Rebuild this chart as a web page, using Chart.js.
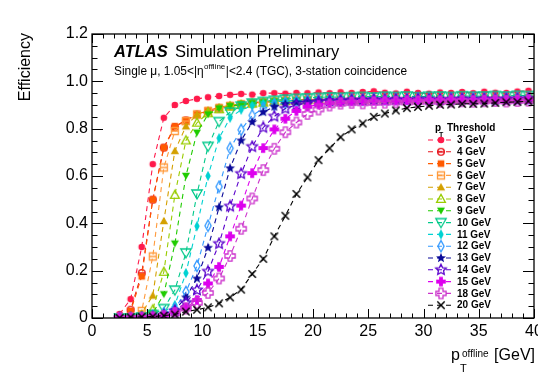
<!DOCTYPE html>
<html>
<head>
<meta charset="utf-8">
<script src="https://cdn.jsdelivr.net/npm/chart.js"></script>
<style>
  html, body { margin: 0; padding: 0; background: #fff; }
</style>
</head>
<body>
<canvas id="effChart" width="538" height="379"></canvas>
<script>
// bin centres in GeV
const ptBins = [2.5, 3.5, 4.5, 5.5, 6.5, 7.5, 8.5, 9.5, 10.5, 11.5, 12.5, 13.5, 14.5, 15.5, 16.5, 17.5, 18.5, 19.5, 20.5,
  21.5, 22.5, 23.5, 24.5, 25.5, 26.5, 27.5, 28.5, 29.5, 30.5, 31.5, 32.5, 33.5, 34.5, 35.5, 36.5, 37.5, 38.5, 39.5];

const thresholds = ['3 GeV', '4 GeV', '5 GeV', '6 GeV', '7 GeV', '8 GeV', '9 GeV', '10 GeV',
  '11 GeV', '12 GeV', '13 GeV', '14 GeV', '15 GeV', '18 GeV', '20 GeV'];

const eff3 = [0.017, 0.08, 0.30, 0.65, 0.846, 0.90, 0.917, 0.926, 0.933, 0.938, 0.943, 0.947, 0.944, 0.950, 0.950, 0.948, 0.951, 0.950, 0.953,
  0.950, 0.954, 0.951, 0.955, 0.958, 0.952, 0.949, 0.956, 0.951, 0.948, 0.953, 0.951, 0.955, 0.950, 0.956, 0.952, 0.951, 0.957, 0.960];
const eff4 = [0.005, 0.035, 0.19, 0.50, 0.72, 0.807, 0.835, 0.86, 0.872, 0.885, 0.895, 0.902, 0.908, 0.912, 0.915, 0.918, 0.920, 0.922, 0.921,
  0.924, 0.923, 0.925, 0.924, 0.926, 0.925, 0.923, 0.927, 0.925, 0.924, 0.926, 0.927, 0.925, 0.926, 0.928, 0.927, 0.926, 0.929, 0.928];
const eff5 = [0.004, 0.03, 0.176, 0.50, 0.72, 0.81, 0.835, 0.86, 0.877, 0.89, 0.898, 0.905, 0.91, 0.914, 0.916, 0.919, 0.921, 0.922, 0.924,
  0.923, 0.925, 0.924, 0.926, 0.925, 0.927, 0.924, 0.926, 0.927, 0.925, 0.928, 0.926, 0.927, 0.929, 0.927, 0.928, 0.926, 0.929, 0.930];
const eff6 = [0.0, 0.005, 0.03, 0.26, 0.636, 0.79, 0.832, 0.86, 0.874, 0.886, 0.896, 0.902, 0.907, 0.911, 0.914, 0.916, 0.918, 0.920, 0.921,
  0.922, 0.921, 0.923, 0.922, 0.924, 0.923, 0.925, 0.923, 0.925, 0.924, 0.926, 0.925, 0.924, 0.926, 0.925, 0.927, 0.926, 0.927, 0.928];
const eff7 = [0.0, 0.003, 0.02, 0.095, 0.41, 0.706, 0.81, 0.86, 0.878, 0.89, 0.899, 0.905, 0.91, 0.913, 0.916, 0.918, 0.92, 0.921, 0.923,
  0.922, 0.924, 0.923, 0.925, 0.924, 0.926, 0.924, 0.925, 0.927, 0.925, 0.926, 0.928, 0.926, 0.927, 0.926, 0.928, 0.927, 0.929, 0.928];
const eff8 = [0.0, 0.002, 0.01, 0.036, 0.195, 0.52, 0.75, 0.825, 0.865, 0.882, 0.893, 0.90, 0.906, 0.91, 0.914, 0.917, 0.919, 0.92, 0.922,
  0.921, 0.923, 0.924, 0.922, 0.925, 0.924, 0.926, 0.924, 0.925, 0.927, 0.925, 0.926, 0.925, 0.927, 0.926, 0.928, 0.926, 0.928, 0.929];
const eff9 = [0.0, 0.0, 0.005, 0.02, 0.10, 0.314, 0.60, 0.783, 0.86, 0.885, 0.895, 0.902, 0.907, 0.911, 0.915, 0.917, 0.919, 0.92, 0.922,
  0.923, 0.921, 0.924, 0.923, 0.925, 0.924, 0.926, 0.925, 0.924, 0.926, 0.927, 0.925, 0.927, 0.926, 0.928, 0.926, 0.927, 0.929, 0.928];
const eff10 = [0.0, 0.0, 0.004, 0.015, 0.04, 0.118, 0.275, 0.524, 0.725, 0.83, 0.87, 0.895, 0.908, 0.915, 0.92, 0.925, 0.928, 0.93, 0.932,
  0.934, 0.933, 0.935, 0.936, 0.934, 0.937, 0.936, 0.938, 0.935, 0.937, 0.938, 0.936, 0.939, 0.937, 0.938, 0.940, 0.938, 0.941, 0.940];
const eff11 = [0.0, 0.0, 0.003, 0.01, 0.025, 0.055, 0.19, 0.388, 0.60, 0.76, 0.846, 0.88, 0.897, 0.907, 0.913, 0.917, 0.92, 0.922, 0.924,
  0.923, 0.925, 0.926, 0.924, 0.927, 0.926, 0.925, 0.927, 0.926, 0.928, 0.927, 0.926, 0.928, 0.927, 0.929, 0.928, 0.927, 0.930, 0.929];
const eff12 = [0.0, 0.0, 0.002, 0.008, 0.02, 0.04, 0.11, 0.22, 0.39, 0.555, 0.717, 0.795, 0.856, 0.885, 0.90, 0.908, 0.914, 0.918, 0.92,
  0.922, 0.923, 0.924, 0.923, 0.925, 0.924, 0.926, 0.925, 0.927, 0.926, 0.925, 0.927, 0.926, 0.928, 0.927, 0.926, 0.928, 0.929, 0.928];
const eff13 = [0.0, 0.0, 0.002, 0.006, 0.015, 0.035, 0.087, 0.167, 0.297, 0.468, 0.633, 0.75, 0.828, 0.87, 0.893, 0.905, 0.912, 0.916, 0.919,
  0.921, 0.922, 0.924, 0.923, 0.925, 0.924, 0.926, 0.925, 0.924, 0.926, 0.927, 0.925, 0.927, 0.926, 0.928, 0.927, 0.926, 0.928, 0.929];
const eff14 = [0.0, 0.0, 0.002, 0.005, 0.012, 0.03, 0.065, 0.118, 0.197, 0.314, 0.472, 0.61, 0.724, 0.805, 0.852, 0.885, 0.90, 0.908, 0.913,
  0.916, 0.918, 0.92, 0.921, 0.922, 0.921, 0.923, 0.922, 0.924, 0.923, 0.922, 0.924, 0.925, 0.923, 0.925, 0.924, 0.926, 0.925, 0.927];
const eff15 = [0.0, 0.0, 0.002, 0.004, 0.01, 0.025, 0.045, 0.076, 0.146, 0.216, 0.345, 0.475, 0.612, 0.718, 0.797, 0.842, 0.875, 0.893, 0.902,
  0.908, 0.912, 0.915, 0.917, 0.918, 0.92, 0.919, 0.921, 0.92, 0.922, 0.921, 0.923, 0.922, 0.921, 0.923, 0.924, 0.922, 0.924, 0.925];
const eff18 = [0.0, 0.0, 0.001, 0.003, 0.008, 0.02, 0.04, 0.064, 0.106, 0.167, 0.262, 0.377, 0.505, 0.625, 0.715, 0.785, 0.826, 0.862, 0.881,
  0.898, 0.906, 0.909, 0.907, 0.909, 0.91, 0.912, 0.911, 0.913, 0.914, 0.913, 0.915, 0.916, 0.914, 0.916, 0.917, 0.915, 0.917, 0.918];
const eff20 = [0.0, 0.003, 0.005, 0.006, 0.01, 0.015, 0.027, 0.035, 0.045, 0.062, 0.087, 0.12, 0.186, 0.25, 0.345, 0.432, 0.524, 0.594, 0.667,
  0.717, 0.764, 0.797, 0.822, 0.85, 0.864, 0.877, 0.887, 0.892, 0.897, 0.901, 0.902, 0.905, 0.905, 0.906, 0.909, 0.912, 0.913, 0.916];

const allEff = [eff3, eff4, eff5, eff6, eff7, eff8, eff9, eff10, eff11, eff12, eff13, eff14, eff15, eff18, eff20];

const seriesColors = ['#ff1a4b', '#e8171f', '#ff5a00', '#ff9a3c', '#d4a000', '#99cc00', '#1fcc00', '#00c98a',
  '#00d2d2', '#3399ff', '#0a0a99', '#5a00cc', '#dd00ee', '#cc33cc', '#000000'];
const markerKinds = ['circle', 'circleBar', 'square', 'squareBar', 'tri', 'triOpen', 'triDown', 'triDownOpen',
  'diamond', 'diamondOpen', 'star', 'starOpen', 'cross', 'crossOpen', 'x'];

const FONT = '"Liberation Sans", Arial, Helvetica, sans-serif';

function starPath(g, R, r) {
  for (let k = 0; k < 10; k++) {
    const a = -Math.PI / 2 + k * Math.PI / 5;
    const rr = k % 2 ? r : R;
    if (k === 0) g.moveTo(rr * Math.cos(a), rr * Math.sin(a));
    else g.lineTo(rr * Math.cos(a), rr * Math.sin(a));
  }
  g.closePath();
}

function crossPath(g, L, w) {
  const p = [[-w, -L], [w, -L], [w, -w], [L, -w], [L, w], [w, w], [w, L], [-w, L], [-w, w], [-L, w], [-L, -w], [-w, -w]];
  p.forEach((q, i) => i ? g.lineTo(q[0], q[1]) : g.moveTo(q[0], q[1]));
  g.closePath();
}

function polyPath(g, pts) {
  pts.forEach((q, i) => i ? g.lineTo(q[0], q[1]) : g.moveTo(q[0], q[1]));
  g.closePath();
}

// ROOT-like marker drawn on a small canvas
function makeMarker(kind, color) {
  const s = 14;
  const c = document.createElement('canvas');
  c.width = s; c.height = s;
  const g = c.getContext('2d');
  g.translate(s / 2, s / 2);
  g.fillStyle = color;
  g.strokeStyle = color;
  g.lineWidth = 1.3;
  g.beginPath();
  switch (kind) {
    case 'circle': g.arc(0, 0, 3.3, 0, 2 * Math.PI); g.fill(); break;
    case 'circleBar':
      g.arc(0, 0, 3.4, 0, 2 * Math.PI); g.moveTo(-3.4, 0); g.lineTo(3.4, 0); g.stroke(); break;
    case 'square': g.rect(-3.3, -3.3, 6.6, 6.6); g.fill(); break;
    case 'squareBar':
      g.rect(-3.5, -3.5, 7, 7); g.moveTo(-3.5, 0); g.lineTo(3.5, 0); g.stroke(); break;
    case 'tri': polyPath(g, [[0, -4.2], [4.2, 3.2], [-4.2, 3.2]]); g.fill(); break;
    case 'triOpen': polyPath(g, [[0, -4.6], [4.4, 3.4], [-4.4, 3.4]]); g.stroke(); break;
    case 'triDown': polyPath(g, [[0, 3.8], [4, -3.2], [-4, -3.2]]); g.fill(); break;
    case 'triDownOpen': polyPath(g, [[0, 5], [5.2, -4], [-5.2, -4]]); g.stroke(); break;
    case 'diamond': polyPath(g, [[0, -5.2], [2.7, 0], [0, 5.2], [-2.7, 0]]); g.fill(); break;
    case 'diamondOpen': polyPath(g, [[0, -5.6], [3.1, 0], [0, 5.6], [-3.1, 0]]); g.stroke(); break;
    case 'star': starPath(g, 5.2, 2.3); g.fill(); break;
    case 'starOpen': starPath(g, 5.6, 2.7); g.stroke(); break;
    case 'cross': crossPath(g, 4.8, 1.9); g.fill(); break;
    case 'crossOpen': crossPath(g, 5.1, 2.0); g.stroke(); break;
    case 'x':
      g.lineWidth = 1.5;
      g.moveTo(-3.7, -3.7); g.lineTo(3.7, 3.7); g.moveTo(3.7, -3.7); g.lineTo(-3.7, 3.7); g.stroke(); break;
  }
  return c;
}

const markerImgs = markerKinds.map((k, i) => makeMarker(k, seriesColors[i]));

const datasets = allEff.map((eff, i) => ({
  label: thresholds[i],
  data: ptBins.map((x, j) => ({ x: x, y: eff[j] })),
  borderColor: seriesColors[i],
  backgroundColor: seriesColors[i],
  borderWidth: 1.1,
  borderDash: [5, 4],
  pointStyle: markerImgs[i],
  pointRadius: 3,
  tension: 0,
  order: -i
}));

// frame, inward ticks, ATLAS labels and the legend
const atlasDecor = {
  id: 'atlasDecor',
  afterDraw(chart) {
    const ctx = chart.ctx;
    const { left, right, top, bottom } = chart.chartArea;
    const xs = chart.scales.x, ys = chart.scales.y;
    ctx.save();
    ctx.strokeStyle = '#000';
    ctx.lineWidth = 1;
    ctx.beginPath();
    for (let v = 0; v <= 40; v++) {
      const px = Math.round(xs.getPixelForValue(v)) + 0.5;
      const len = v % 5 === 0 ? 9 : 4.5;
      ctx.moveTo(px, bottom); ctx.lineTo(px, bottom - len);
      ctx.moveTo(px, top); ctx.lineTo(px, top + len);
    }
    for (let k = 0; k <= 24; k++) {
      const py = Math.round(ys.getPixelForValue(k * 0.05)) + 0.5;
      const len = k % 4 === 0 ? 11 : 5.5;
      ctx.moveTo(left, py); ctx.lineTo(left + len, py);
      ctx.moveTo(right, py); ctx.lineTo(right - len, py);
    }
    ctx.stroke();
    ctx.lineWidth = 1.3;
    ctx.strokeRect(left, top, right - left, bottom - top);

    ctx.fillStyle = '#000';
    ctx.textBaseline = 'alphabetic';
    // y axis title
    ctx.save();
    ctx.translate(30, 33);
    ctx.rotate(-Math.PI / 2);
    ctx.textAlign = 'right';
    ctx.font = '16px ' + FONT;
    ctx.fillText('Efficiency', 0, 0);
    ctx.restore();

    // x axis title
    ctx.textAlign = 'left';
    ctx.font = '16px ' + FONT;
    ctx.fillText('p', 451, 360);
    ctx.font = '11px ' + FONT;
    ctx.fillText('T', 460, 372);
    ctx.font = '10px ' + FONT;
    ctx.fillText('offline', 462, 357);
    ctx.textAlign = 'right';
    ctx.font = '16px ' + FONT;
    ctx.fillText('[GeV]', 535, 360);

    // ATLAS label
    ctx.textAlign = 'left';
    ctx.font = 'italic bold 16.5px ' + FONT;
    ctx.fillText('ATLAS', 114, 57);
    ctx.font = '16.5px ' + FONT;
    ctx.fillText('Simulation Preliminary', 175, 57);

    ctx.font = '11.9px ' + FONT;
    let tx = 114;
    const part1 = 'Single \u03bc, 1.05<|\u03b7';
    ctx.fillText(part1, tx, 75);
    tx += ctx.measureText(part1).width + 0.5;
    ctx.font = '8px ' + FONT;
    ctx.fillText('offline', tx, 69);
    tx += ctx.measureText('offline').width + 0.5;
    ctx.font = '11.9px ' + FONT;
    ctx.fillText('|<2.4 (TGC), 3-station coincidence', tx, 75);

    // legend
    ctx.font = 'bold 10px ' + FONT;
    ctx.fillText('p', 435, 131);
    ctx.font = 'bold 7px ' + FONT;
    ctx.fillText('T', 439, 137);
    ctx.font = 'bold 10px ' + FONT;
    ctx.fillText('Threshold', 447, 131);
    chart.data.datasets.forEach((ds, i) => {
      const y = 140 + i * 11.8;
      ctx.save();
      ctx.strokeStyle = ds.borderColor;
      ctx.lineWidth = 1.1;
      ctx.setLineDash([5, 4]);
      ctx.beginPath();
      ctx.moveTo(428, y); ctx.lineTo(453, y);
      ctx.stroke();
      ctx.restore();
      const img = ds.pointStyle;
      ctx.drawImage(img, 441 - img.width / 2, y - img.height / 2);
      ctx.fillStyle = '#000';
      ctx.font = 'bold 10px ' + FONT;
      ctx.textBaseline = 'middle';
      ctx.textAlign = 'left';
      ctx.fillText(ds.label, 457, y + 0.5);
    });
    ctx.restore();
  }
};

new Chart(document.getElementById('effChart').getContext('2d'), {
  type: 'line',
  data: { datasets: datasets },
  options: {
    responsive: false,
    animation: false,
    devicePixelRatio: 1,
    layout: { padding: { left: 0, right: 4, top: 34, bottom: 0 }, autoPadding: false },
    plugins: { legend: { display: false }, tooltip: { enabled: false } },
    scales: {
      x: {
        type: 'linear', min: 0, max: 40,
        grid: { display: false, drawTicks: false },
        border: { display: false },
        ticks: { stepSize: 5, color: '#000', font: { family: FONT, size: 16 }, padding: 4, maxRotation: 0 },
        afterFit: s => { s.height = 61; s.paddingLeft = 0; s.paddingRight = 0; }
      },
      y: {
        type: 'linear', min: 0, max: 1.2,
        grid: { display: false, drawTicks: false },
        border: { display: false },
        ticks: { stepSize: 0.2, color: '#000', font: { family: FONT, size: 16 }, padding: 4 },
        afterFit: s => { s.width = 92; s.paddingTop = 0; s.paddingBottom = 0; }
      }
    }
  },
  plugins: [atlasDecor]
});
</script>
</body>
</html>
